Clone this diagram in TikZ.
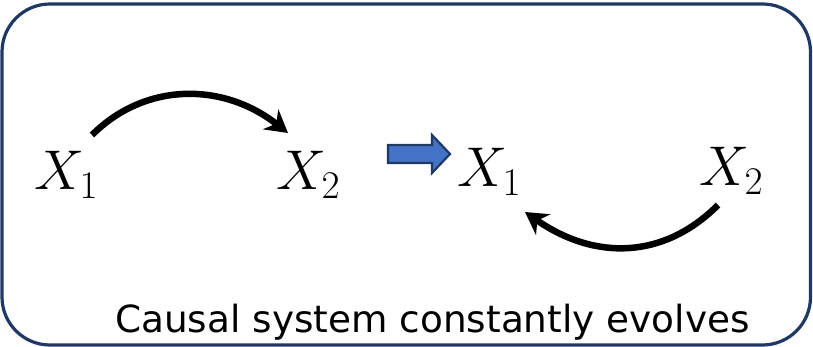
\RequirePackage{fix-cm}
\documentclass[tikz,border=0pt]{standalone}
\usepackage{fontspec}
\newfontfamily\capfont{DejaVu Sans}
\usetikzlibrary{arrows.meta}
\definecolor{navy}{RGB}{32,56,100}
\definecolor{arrblue}{RGB}{68,114,196}
\tikzset{
  var/.style={inner sep=0pt, outer sep=0pt, anchor=base west, font=\fontsize{56}{60}\selectfont},
  causal/.style={line width=6.5pt, -{Stealth[length=22pt,width=25pt,inset=7pt]}},
  frame/.style={draw=navy, line width=3.2pt, rounded corners=48pt},
}
\begin{document}
\begin{tikzpicture}[x=1pt,y=-1pt]
\useasboundingbox (0,0) rectangle (813,347);
\draw[frame] (2,4) rectangle (810.5,345);
\node[var] (x1a) at (34,190) {$X_1$};
\node[var] (x2a) at (276,190) {$X_2$};
\node[var] (x1b) at (457,187) {$X_1$};
\node[var] (x2b) at (699,186) {$X_2$};
\coordinate (s1) at (92,135);
\coordinate (e1) at (288,133);
\coordinate (s2) at (718,205);
\coordinate (e2) at (525,212);
\draw[causal] (s1) .. controls (145,82) and (223,82) .. (e1);
\draw[causal] (s2) .. controls (663,260) and (594,260) .. (e2);
\draw[draw=navy, fill=arrblue, line width=2.2pt, line join=miter]
  (388,145) -- (432,145) -- (432,135) -- (450,154) -- (432,173) -- (432,163) -- (388,163) -- cycle;
\node[inner sep=0pt, anchor=base west, font=\capfont\fontsize{37.4}{40}\selectfont] (cap) at (115,332) {Causal system constantly evolves};
\end{tikzpicture}
\end{document}
